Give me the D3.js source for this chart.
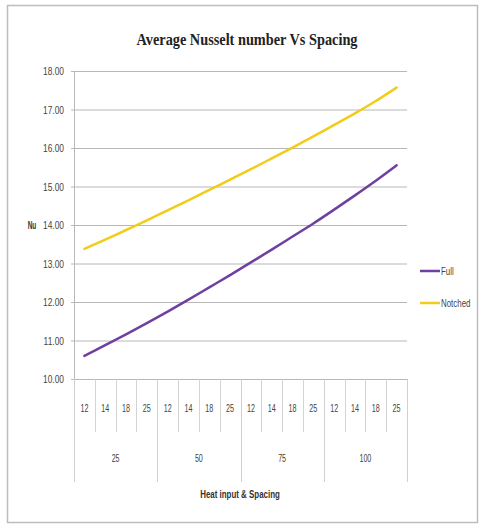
<!DOCTYPE html>
<html><head><meta charset="utf-8">
<script src="https://cdn.jsdelivr.net/npm/d3@7"></script>
<style>body{margin:0;background:#fff}svg{display:block}</style>
</head><body>
<svg id="c" width="483" height="527"></svg>
<script>
const heatInputs = ["25","50","75","100"];
const spacings = ["12","14","18","25"];
const fullValues = [10.60,10.88,11.16,11.45,11.75,12.06,12.38,12.70,13.03,13.36,13.70,14.04,14.40,14.77,15.15,15.55];
const notchedValues = [13.38,13.62,13.87,14.12,14.38,14.64,14.91,15.18,15.45,15.73,16.01,16.30,16.60,16.90,17.22,17.57];
const yTicks = [10,11,12,13,14,15,16,17,18];
const seriesNames = ["Full","Notched"];
const seriesColors = ["#7040a0","#f2cc1a"];

const FONT = "Liberation Sans, Arial, sans-serif";
const svg = d3.select("#c");
const L = 74, R = 407, T = 71, B = 379;
const cats = [];
heatInputs.forEach(h => spacings.forEach(s => cats.push(h + "|" + s)));
const x = d3.scaleBand().domain(cats).range([L, R]);
const xg = d3.scaleBand().domain(heatInputs).range([L, R]);
const y = d3.scaleLinear().domain([10, 18]).range([B, T]);

// narrow text helper: compress to approx 0.62 of normal width
function narrow(sel, ratio){
  sel.each(function(){
    const w = this.getComputedTextLength();
    if (w>0) d3.select(this).attr("textLength", w*ratio).attr("lengthAdjust","spacingAndGlyphs");
  });
}

// outer frame
svg.append("rect").attr("x",7.5).attr("y",5.5).attr("width",470).attr("height",517)
  .attr("fill","#fff").attr("stroke","#bdbdbd").attr("stroke-width",1.5);

// title
svg.append("text").attr("x",247).attr("y",45).attr("text-anchor","middle")
  .attr("font-family","Liberation Serif, serif").attr("font-weight","bold").attr("font-size",17)
  .attr("textLength",221).attr("lengthAdjust","spacingAndGlyphs").attr("fill","#222")
  .text("Average Nusselt number Vs Spacing");

// gridlines
svg.append("g").selectAll("line").data(yTicks).join("line")
  .attr("x1",L-3).attr("x2",R).attr("y1",d=>y(d)+0.5).attr("y2",d=>y(d)+0.5)
  .attr("stroke","#b8b8b8").attr("stroke-width",1);
svg.append("line").attr("x1",L+0.5).attr("x2",L+0.5).attr("y1",T).attr("y2",B)
  .attr("stroke","#b8b8b8");
// y labels
svg.append("g").selectAll("text").data(yTicks).join("text")
  .attr("x",64).attr("y",d=>y(d)+4).attr("text-anchor","end")
  .attr("font-family",FONT).attr("font-size",10.5)
  .attr("fill","#444").text(d=>d.toFixed(2)).call(narrow,0.8);
svg.append("text").attr("x",32).attr("y",229).attr("text-anchor","middle")
  .attr("font-family",FONT).attr("font-size",10).attr("font-weight","bold")
  .attr("fill","#333").text("Nu").call(narrow,0.65);

// category separators
const innerB = cats.map(c => x(c)).filter((v,i)=> i%4!==0);
svg.append("g").selectAll("line").data(innerB).join("line")
  .attr("x1",d=>Math.round(d)+0.5).attr("x2",d=>Math.round(d)+0.5).attr("y1",B).attr("y2",432)
  .attr("stroke","#d4d4d4");
const groupB = heatInputs.map(h=>xg(h)).concat([R]);
svg.append("g").selectAll("line").data(groupB).join("line")
  .attr("x1",d=>Math.round(d)+0.5).attr("x2",d=>Math.round(d)+0.5).attr("y1",B).attr("y2",482)
  .attr("stroke","#d0d0d0");
// inner labels
svg.append("g").selectAll("text").data(cats).join("text")
  .attr("x",d=>x(d)+x.bandwidth()/2).attr("y",412).attr("text-anchor","middle")
  .attr("font-family",FONT).attr("font-size",11)
  .attr("fill","#444").text(d=>d.split("|")[1]).call(narrow,0.65);
svg.append("g").selectAll("text").data(heatInputs).join("text")
  .attr("x",d=>xg(d)+xg.bandwidth()/2).attr("y",462).attr("text-anchor","middle")
  .attr("font-family",FONT).attr("font-size",11)
  .attr("fill","#444").text(d=>d).call(narrow,0.65);
svg.append("text").attr("x",240).attr("y",498).attr("text-anchor","middle")
  .attr("font-family",FONT).attr("font-size",11)
  .attr("font-weight","bold").attr("fill","#333").text("Heat input & Spacing").call(narrow,0.72);

// lines
const line = d3.line().x((d,i)=>x(cats[i])+x.bandwidth()/2).y(d=>y(d)).curve(d3.curveMonotoneX);
[fullValues, notchedValues].forEach((vals,k)=>{
  svg.append("path").datum(vals).attr("d",line).attr("fill","none")
    .attr("stroke",seriesColors[k]).attr("stroke-width",2.5).attr("stroke-linecap","round");
});

// legend
const ly = [271, 303];
seriesNames.forEach((n,k)=>{
  svg.append("line").attr("x1",420).attr("x2",440).attr("y1",ly[k]).attr("y2",ly[k])
    .attr("stroke",seriesColors[k]).attr("stroke-width",2.5);
  svg.append("text").attr("x",441).attr("y",ly[k]+3.5)
    .attr("font-family",FONT).attr("font-size",11)
    .attr("fill","#444").text(n).call(narrow,0.72);
});
</script>
</body></html>
